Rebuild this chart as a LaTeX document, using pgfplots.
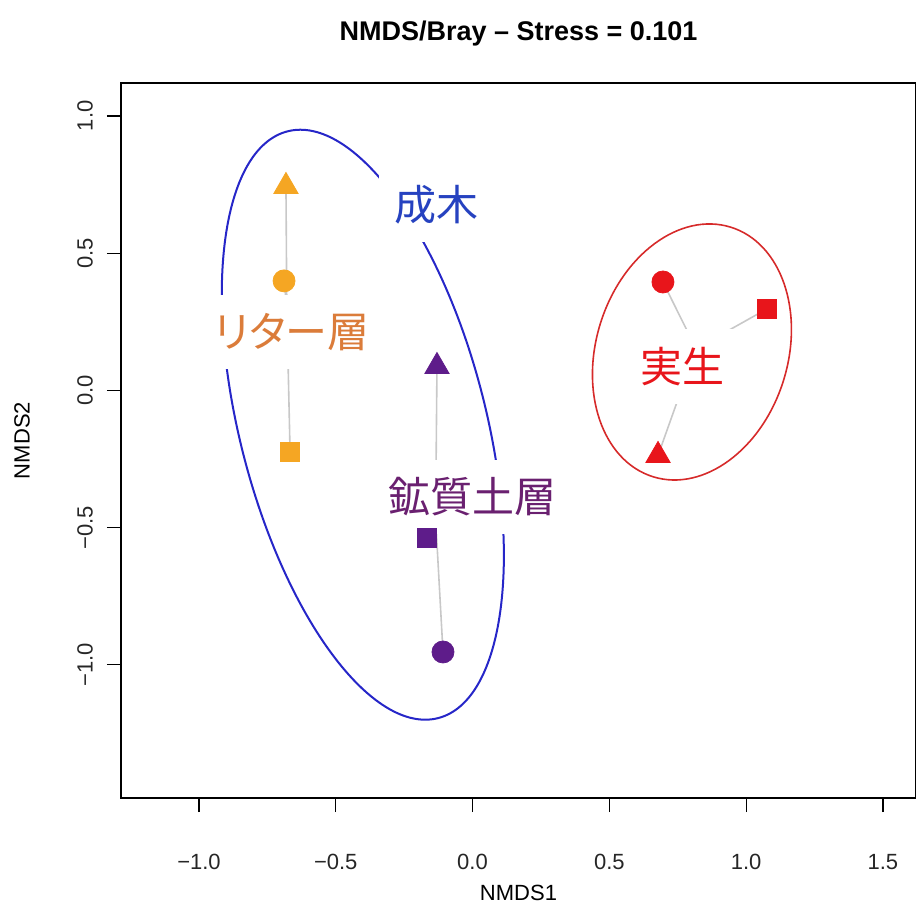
\documentclass[border=0pt]{standalone}
\usepackage{fontspec}
\setmainfont{Liberation Sans}
\newfontfamily\jp{Noto Sans CJK JP}[RawFeature=+palt]
\usepackage{pgfplots}
\pgfplotsset{compat=1.18}
\definecolor{ptorange}{HTML}{F5A623}
\definecolor{lborange}{HTML}{DB7C3A}
\definecolor{ptpurple}{HTML}{5E1C8A}
\definecolor{lbpurple}{HTML}{6A2070}
\definecolor{ptred}{HTML}{E8151B}
\definecolor{ellred}{HTML}{D62A2A}
\definecolor{ellblue}{HTML}{2626C8}
\definecolor{lbblue}{HTML}{2642C0}
\definecolor{spider}{HTML}{C8C8C8}
\begin{document}
\begin{tikzpicture}[x=1pt,y=1pt]
\useasboundingbox (-60.5,-53.5) rectangle (397.5,399);
\begin{axis}[
  at={(0,0)}, anchor=south west, scale only axis,
  width=397.5pt, height=357.5pt,
  xmin=-1.285, xmax=1.621, ymin=-1.485, ymax=1.120,
  xtick={-1,-0.5,0,0.5,1,1.5},
  xticklabels={−1.0,−0.5,0.0,0.5,1.0,1.5},
  ytick={-1,-0.5,0,0.5,1},
  yticklabels={−1.0,−0.5,0.0,0.5,1.0},
  tick pos=left, tick align=outside, major tick length=7pt,
  tick style={black, line width=0.6pt},
  axis line style={black, line width=0.6pt},
  ticklabel style={font=\fontsize{11}{13}\selectfont, text=black!85},
  xticklabel style={anchor=center},
  xticklabel shift=25pt,
  yticklabel style={rotate=90, anchor=center, yshift=11pt},
  xlabel={NMDS1}, ylabel={NMDS2},
  label style={font=\fontsize{11}{13}\selectfont},
  xlabel style={at={(axis description cs:0.5,0)}, anchor=center, yshift=-47.5pt},
  ylabel style={at={(axis description cs:0,0.5)}, anchor=center, yshift=49.5pt},
  title={NMDS/Bray – Stress = 0.101},
  title style={font=\fontsize{13.5}{16}\selectfont\bfseries, at={(axis description cs:0.5,1)}, anchor=center, yshift=18.5pt},
]
% spider lines from group centroids to points
\addplot[spider, line width=0.8pt] coordinates {(-0.679,0.306) (-0.682,0.743)};
\addplot[spider, line width=0.8pt] coordinates {(-0.679,0.306) (-0.689,0.399)};
\addplot[spider, line width=0.8pt] coordinates {(-0.679,0.306) (-0.667,-0.224)};
\addplot[spider, line width=0.8pt] coordinates {(-0.135,-0.468) (-0.130,0.087)};
\addplot[spider, line width=0.8pt] coordinates {(-0.135,-0.468) (-0.166,-0.537)};
\addplot[spider, line width=0.8pt] coordinates {(-0.135,-0.468) (-0.108,-0.953)};
\addplot[spider, line width=0.8pt] coordinates {(0.817,0.152) (0.696,0.395)};
\addplot[spider, line width=0.8pt] coordinates {(0.817,0.152) (1.076,0.297)};
\addplot[spider, line width=0.8pt] coordinates {(0.817,0.152) (0.678,-0.237)};
% ellipses
\draw[ellblue, line width=1pt, rotate around={104.4:(axis cs:-0.401,-0.125)}] (axis cs:-0.401,-0.125) ellipse [x radius=151.45pt, y radius=61.55pt];
\draw[ellred, line width=0.8pt, rotate around={72.7:(axis cs:0.802,0.140)}] (axis cs:0.802,0.140) ellipse [x radius=65.35pt, y radius=47.95pt];
% points
\addplot[only marks, mark=triangle*, mark size=7pt, color=ptorange] coordinates {(-0.682,0.743)};
\addplot[only marks, mark=*, mark size=5.5pt, color=ptorange] coordinates {(-0.689,0.399)};
\addplot[only marks, mark=square*, mark size=4.7pt, color=ptorange] coordinates {(-0.667,-0.224)};
\addplot[only marks, mark=triangle*, mark size=7pt, color=ptpurple] coordinates {(-0.130,0.087)};
\addplot[only marks, mark=square*, mark size=4.7pt, color=ptpurple] coordinates {(-0.166,-0.537)};
\addplot[only marks, mark=*, mark size=5.5pt, color=ptpurple] coordinates {(-0.108,-0.953)};
\addplot[only marks, mark=*, mark size=5.5pt, color=ptred] coordinates {(0.696,0.395)};
\addplot[only marks, mark=square*, mark size=4.7pt, color=ptred] coordinates {(1.076,0.297)};
\addplot[only marks, mark=triangle*, mark size=7pt, color=ptred] coordinates {(0.678,-0.237)};
% labels
\node[fill=white, inner xsep=8pt, inner ysep=9pt, text=lbblue, font=\jp\fontsize{21}{24}\selectfont] at (axis cs:-0.130,0.676) {成木};
\node[fill=white, inner xsep=8pt, inner ysep=9pt, text=lborange, font=\jp\fontsize{21}{24}\selectfont] at (axis cs:-0.659,0.213) {リター層};
\node[fill=white, inner xsep=8pt, inner ysep=9pt, text=lbpurple, font=\jp\fontsize{21}{24}\selectfont] at (axis cs:0.001,-0.388) {鉱質土層};
\node[fill=white, inner xsep=8pt, inner ysep=9pt, text=ptred, font=\jp\fontsize{21}{24}\selectfont] at (axis cs:0.769,0.086) {実生};
\end{axis}
\end{tikzpicture}
\end{document}
